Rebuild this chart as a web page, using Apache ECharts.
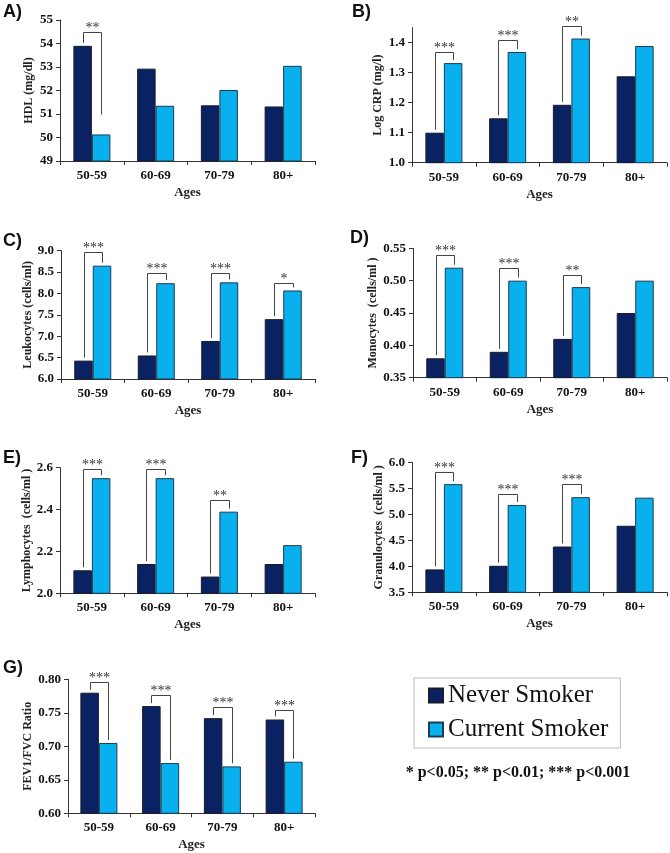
<!DOCTYPE html>
<html>
<head>
<meta charset="utf-8">
<script src="https://cdn.jsdelivr.net/npm/echarts@6/dist/echarts.min.js"></script>
<style>
html, body { margin: 0; padding: 0; background: #fff; }
#chart { width: 670px; height: 853px; }
</style>
</head>
<body>
<div id="chart"></div>
<script>
var ages = ['50-59', '60-69', '70-79', '80+'];

// A) HDL
var hdlNever = [53.9, 52.93, 51.37, 51.32];
var hdlCurrent = [50.13, 51.35, 52.02, 53.05];
var hdlSig = ['**', '', '', ''];
var hdlBracket = [54.5, null, null, null];
var hdlTicks = [49, 55, 1];

// B) Log CRP
var crpNever = [1.10, 1.148, 1.193, 1.288];
var crpCurrent = [1.332, 1.369, 1.414, 1.389];
var crpSig = ['***', '***', '**', ''];
var crpBracket = [1.37, 1.41, 1.455, null];
var crpTicks = [1.0, 1.45, 0.1];

// C) Leukocytes
var leuNever = [6.43, 6.55, 6.89, 7.4];
var leuCurrent = [8.65, 8.24, 8.26, 8.07];
var leuSig = ['***', '***', '***', '*'];
var leuBracket = [8.96, 8.49, 8.49, 8.25];
var leuTicks = [6.0, 9.0, 0.5];

// D) Monocytes
var monNever = [0.38, 0.39, 0.41, 0.45];
var monCurrent = [0.52, 0.50, 0.49, 0.50];
var monSig = ['***', '***', '**', ''];
var monBracket = [0.54, 0.519, 0.509, null];
var monTicks = [0.35, 0.55, 0.05];

// E) Lymphocytes
var lymNever = [2.11, 2.14, 2.08, 2.14];
var lymCurrent = [2.55, 2.55, 2.39, 2.23];
var lymSig = ['***', '***', '**', ''];
var lymBracket = [2.593, 2.593, 2.445, null];
var lymTicks = [2.0, 2.6, 0.2];

// F) Granulocytes
var graNever = [3.94, 4.01, 4.38, 4.78];
var graCurrent = [5.58, 5.18, 5.33, 5.32];
var graSig = ['***', '***', '***', ''];
var graBracket = [5.81, 5.40, 5.58, null];
var graTicks = [3.5, 6.0, 0.5];

// G) FEV1/FVC
var fevNever = [0.78, 0.76, 0.742, 0.74];
var fevCurrent = [0.705, 0.675, 0.67, 0.677];
var fevSig = ['***', '***', '***', '***'];
var fevBracket = [0.7955, 0.7766, 0.758, 0.754];
var fevTicks = [0.60, 0.80, 0.05];

var seriesNames = ['Never Smoker', 'Current Smoker'];
var footnote = '* p<0.05; ** p<0.01; *** p<0.001';

var DARK = '#0b2262';
var LIGHT = '#08b0ee';
var BW = 18.5;
var GAP = 3;
var SERIF = '"Liberation Serif", "Times New Roman", serif';

var panels = [
	{tag: 'A)', name: 'HDL (mg/dl)', never: hdlNever, current: hdlCurrent, sig: hdlSig, bracket: hdlBracket, ticks: hdlTicks, dec: 0,
		rightLeg: [50.85, null, null, null],
		grid: {left: 60, top: 20, width: 255, height: 141}, nameGap: 25, tagPos: [3, 13]},
	{tag: 'B)', name: 'Log CRP (mg/l)', never: crpNever, current: crpCurrent, sig: crpSig, bracket: crpBracket, ticks: crpTicks, dec: 1,
		grid: {left: 412, top: 27.7, width: 255, height: 135}, nameGap: 28, tagPos: [352, 13]},
	{tag: 'C)', name: 'Leukocytes (cells/ml)', never: leuNever, current: leuCurrent, sig: leuSig, bracket: leuBracket, ticks: leuTicks, dec: 1,
		grid: {left: 61, top: 250.7, width: 254, height: 128.3}, nameGap: 25, tagPos: [3, 242]},
	{tag: 'D)', name: 'Monocytes  (cells/ml )', never: monNever, current: monCurrent, sig: monSig, bracket: monBracket, ticks: monTicks, dec: 2,
		grid: {left: 413, top: 248.3, width: 254, height: 129.4}, nameGap: 28, tagPos: [350, 239]},
	{tag: 'E)', name: 'Lymphocytes  (cells/ml )', never: lymNever, current: lymCurrent, sig: lymSig, bracket: lymBracket, ticks: lymTicks, dec: 1,
		grid: {left: 60, top: 467.7, width: 255, height: 125.6}, nameGap: 24, tagPos: [3, 459]},
	{tag: 'F)', name: 'Granulocytes  (cells/ml )', never: graNever, current: graCurrent, sig: graSig, bracket: graBracket, ticks: graTicks, dec: 1,
		grid: {left: 412, top: 462.3, width: 255, height: 130}, nameGap: 27, tagPos: [351, 459]},
	{tag: 'G)', name: 'FEV1/FVC Ratio', never: fevNever, current: fevCurrent, sig: fevSig, bracket: fevBracket, ticks: fevTicks, dec: 2,
		grid: {left: 68, top: 679.3, width: 247, height: 134}, nameGap: 31, tagPos: [3, 669]}
];

//significance bracket: horizontal bar over the pair, legs down to the bars
function bracketRender(labels) {
	return function (params, api) {
		var i = api.value(0);
		var top = api.coord([i, api.value(1)]);
		var l = api.coord([i, api.value(2)]);
		var r = api.coord([i, api.value(3)]);
		var x1 = Math.round(top[0] - BW / 2) + 0.5, x2 = Math.round(top[0] + BW / 2) + 0.5;
		var y0 = Math.round(top[1]) + 0.5;
		return {
			type: 'group',
			children: [{
				type: 'polyline',
				shape: {points: [[x1, l[1] - GAP], [x1, y0], [x2, y0], [x2, r[1] - GAP]]},
				style: {stroke: '#444', lineWidth: 1, fill: null}
			}, {
				type: 'text',
				style: {
					text: labels[params.dataIndex],
					x: (x1 + x2) / 2, y: y0 + 3,
					align: 'center', verticalAlign: 'bottom',
					font: '14px ' + SERIF, fill: '#333'
				}
			}]
		};
	};
}

var grids = [], xAxes = [], yAxes = [], series = [], graphics = [];

panels.forEach(function (p, k) {
	grids.push(p.grid);
	xAxes.push({
		type: 'category', gridIndex: k, data: ages,
		name: 'Ages', nameLocation: 'middle', nameGap: 25,
		nameTextStyle: {fontFamily: SERIF, fontWeight: 'bold', fontSize: 13, color: '#222'},
		axisLine: {lineStyle: {color: '#333', width: 1}},
		axisTick: {show: true, length: 4, lineStyle: {color: '#333'}},
		axisLabel: {fontFamily: SERIF, fontWeight: 'bold', fontSize: 13, color: '#111', margin: 8},
		splitLine: {show: false}
	});
	var dec = p.dec;
	yAxes.push({
		type: 'value', gridIndex: k,
		min: p.ticks[0], max: p.ticks[1], interval: p.ticks[2],
		name: p.name, nameLocation: 'middle', nameGap: p.nameGap, nameRotate: 90,
		nameTextStyle: {fontFamily: SERIF, fontWeight: 'bold', fontSize: 12, color: '#222'},
		axisLine: {show: true, lineStyle: {color: '#333', width: 1}},
		axisTick: {show: true, length: 4, lineStyle: {color: '#333'}},
		axisLabel: {
			fontFamily: SERIF, fontWeight: 'bold', fontSize: 13, color: '#111', margin: 7,
			showMaxLabel: p.ticks[1] / p.ticks[2] % 1 < 1e-6 || p.ticks[1] / p.ticks[2] % 1 > 1 - 1e-6,
			formatter: function (v) { return v.toFixed(dec); }
		},
		splitLine: {show: false}
	});
	series.push({
		type: 'bar', name: seriesNames[0], xAxisIndex: k, yAxisIndex: k,
		data: p.never, barWidth: BW, barGap: '0%',
		itemStyle: {color: DARK, borderColor: '#1a1a2a', borderWidth: 1}
	}, {
		type: 'bar', name: seriesNames[1], xAxisIndex: k, yAxisIndex: k,
		data: p.current, barWidth: BW, barGap: '0%',
		itemStyle: {color: LIGHT, borderColor: '#1d3b56', borderWidth: 1}
	});

	var items = [], labels = [];
	p.sig.forEach(function (s, i) {
		if (!s) return;
		var rl = p.rightLeg && p.rightLeg[i] != null ? p.rightLeg[i] : p.current[i];
		items.push([i, p.bracket[i], p.never[i], rl]);
		labels.push(s);
	});
	series.push({
		type: 'custom', xAxisIndex: k, yAxisIndex: k, clip: false, silent: true,
		renderItem: bracketRender(labels), data: items, z: 5
	});

	graphics.push({
		type: 'text', left: p.tagPos[0], top: p.tagPos[1] - 10,
		style: {text: p.tag, font: 'bold 18px "Liberation Sans", Arial, sans-serif', fill: '#111'}
	});
});

graphics.push({
	type: 'text', x: 518, y: 773,
	style: {text: footnote, font: 'bold 16px ' + SERIF, fill: '#111', align: 'center', verticalAlign: 'middle'}
});

var chart = echarts.init(document.getElementById('chart'), null, {renderer: 'canvas'});
chart.setOption({
	animation: false,
	backgroundColor: '#fff',
	grid: grids,
	xAxis: xAxes,
	yAxis: yAxes,
	legend: {
		data: seriesNames, orient: 'vertical', left: 414, top: 678,
		icon: 'rect', itemWidth: 14, itemHeight: 14, itemGap: 9,
		borderColor: '#bbb', borderWidth: 1, padding: [5, 12, 6, 14],
		textStyle: {fontFamily: SERIF, fontSize: 25, color: '#111'}
	},
	graphic: graphics,
	series: series
});
</script>
</body>
</html>
